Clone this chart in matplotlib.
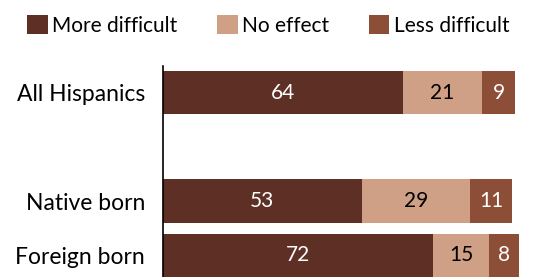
import numpy as np
import matplotlib
matplotlib.use('Agg')
import matplotlib.pyplot as plt

plt.rcParams['font.family'] = ['Lato', 'DejaVu Sans']

groups = ['All Hispanics', 'Native born', 'Foreign born']
positions = [0, 2, 3]
series = ['More difficult', 'No effect', 'Less difficult']
more_difficult = [64, 53, 72]
no_effect = [21, 29, 15]
less_difficult = [9, 11, 8]

colors = ['#5e2f25', '#cf9f86', '#8c4e37']
text_colors = ['white', 'black', 'white']

fig = plt.figure(figsize=(5.36, 2.77), dpi=100)
ax = fig.add_axes([163 / 536, 0, 373 / 536, 211 / 277])

left = np.zeros(len(groups))
for name, vals, c, tc in zip(series, [more_difficult, no_effect, less_difficult], colors, text_colors):
    ax.barh(positions, vals, left=left, height=0.8, color=c, label=name)
    for p, v, l in zip(positions, vals, left):
        ax.text(l + v / 2, p, str(v), ha='center', va='center', color=tc, fontsize=15)
    left = left + np.array(vals)

ax.set_xlim(0, 99.5)
ax.set_ylim(3.4, -0.49)
ax.set_yticks(positions)
ax.set_yticklabels(groups, fontsize=16.5)
ax.tick_params(axis='y', length=0, pad=13)
ax.set_xticks([])
for s in ['top', 'right', 'bottom']:
    ax.spines[s].set_visible(False)
ax.spines['left'].set_linewidth(1.2)

fig.legend(loc='upper left', bbox_to_anchor=(0.035, 0.975), ncol=3, frameon=False,
           fontsize=15, handlelength=1.0, handleheight=1.0, handletextpad=0.2,
           columnspacing=1.9, borderaxespad=0)

fig.savefig('out.png', dpi=100)
